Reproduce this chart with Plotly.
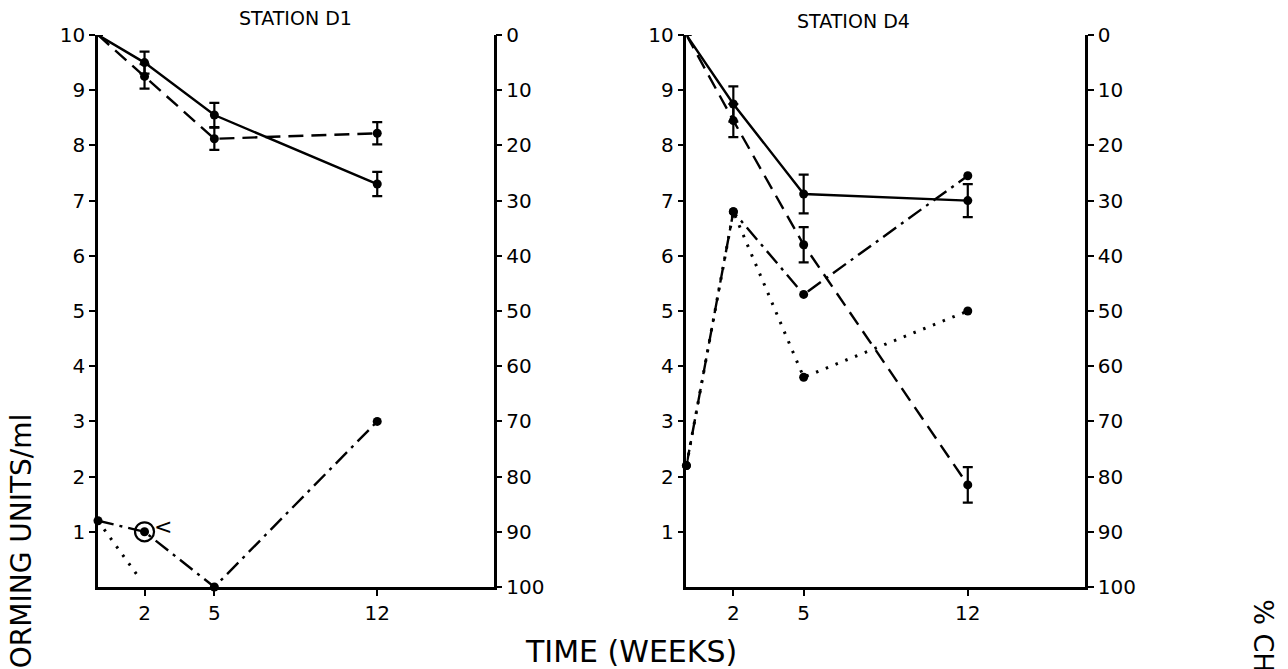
import plotly.graph_objects as go

# ---------------------------------------------------------
# data
# ---------------------------------------------------------
weeks = [0, 2, 5, 12]
week_ticks = [2, 5, 12]
log_ticks = [1, 2, 3, 4, 5, 6, 7, 8, 9, 10]
pct_ticks = [0, 10, 20, 30, 40, 50, 60, 70, 80, 90, 100]

# Station D1
d1_solid = [10, 9.5, 8.55, 7.3]
d1_solid_err = [0, 0.2, 0.22, 0.22]
d1_dash = [10, 9.25, 8.12, 8.22]
d1_dash_err = [0, 0.22, 0.2, 0.2]
d1_dashdot = [1.2, 1.0, 0, 3.0]
d1_dot_weeks = [0, 1.8]
d1_dot = [1.2, 0.15]
d1_circled_week = [2]
d1_circled = [1.0]

# Station D4
d4_solid = [10, 8.75, 7.12, 7.0]
d4_solid_err = [0, 0.32, 0.35, 0.3]
d4_dash = [10, 8.45, 6.2, 1.85]
d4_dash_err = [0, 0.3, 0.32, 0.32]
d4_dashdot = [2.2, 6.8, 5.3, 7.45]
d4_dot = [2.2, 6.8, 3.8, 5.0]

FONT = "DejaVu Sans"
LW = 2.4
DASH = "15px,8px"
DASHDOT = "16px,6px,3px,6px"
DOT = "2.5px,8px"
no_first = [0, 9, 9, 9]


def err(a):
    return dict(type="data", array=a, color="black", thickness=2.2, width=5)


def dots(size):
    return dict(size=size, color="black", opacity=1, line=dict(width=0))


fig = go.Figure()

# ---------------------------------------------------------
# Station D1 (x / y)
# ---------------------------------------------------------
fig.add_trace(go.Scatter(x=weeks, y=d1_solid, xaxis="x", yaxis="y", mode="lines+markers",
                         line=dict(color="black", width=LW), marker=dots(no_first),
                         error_y=err(d1_solid_err), cliponaxis=False))
fig.add_trace(go.Scatter(x=weeks, y=d1_dash, xaxis="x", yaxis="y", mode="lines+markers",
                         line=dict(color="black", width=LW, dash=DASH), marker=dots(no_first),
                         error_y=err(d1_dash_err), cliponaxis=False))
fig.add_trace(go.Scatter(x=weeks, y=d1_dashdot, xaxis="x", yaxis="y", mode="lines+markers",
                         line=dict(color="black", width=LW, dash=DASHDOT), marker=dots(9),
                         cliponaxis=False))
fig.add_trace(go.Scatter(x=d1_dot_weeks, y=d1_dot, xaxis="x", yaxis="y", mode="lines",
                         line=dict(color="black", width=LW + 0.6, dash=DOT), cliponaxis=False))
fig.add_trace(go.Scatter(x=d1_circled_week, y=d1_circled, xaxis="x", yaxis="y", mode="markers",
                         marker=dict(symbol="circle-open", size=19, color="black", line=dict(width=2.2)),
                         cliponaxis=False))

# ---------------------------------------------------------
# Station D4 (x2 / y3)
# ---------------------------------------------------------
fig.add_trace(go.Scatter(x=weeks, y=d4_solid, xaxis="x2", yaxis="y3", mode="lines+markers",
                         line=dict(color="black", width=LW), marker=dots(no_first),
                         error_y=err(d4_solid_err), cliponaxis=False))
fig.add_trace(go.Scatter(x=weeks, y=d4_dash, xaxis="x2", yaxis="y3", mode="lines+markers",
                         line=dict(color="black", width=LW, dash=DASH), marker=dots(no_first),
                         error_y=err(d4_dash_err), cliponaxis=False))
fig.add_trace(go.Scatter(x=weeks, y=d4_dashdot, xaxis="x2", yaxis="y3", mode="lines+markers",
                         line=dict(color="black", width=LW, dash=DASHDOT), marker=dots(9),
                         cliponaxis=False))
fig.add_trace(go.Scatter(x=weeks, y=d4_dot, xaxis="x2", yaxis="y3", mode="lines+markers",
                         line=dict(color="black", width=LW + 0.6, dash=DOT), marker=dots(9),
                         cliponaxis=False))

# empty traces so the % change axes get drawn
fig.add_trace(go.Scatter(x=[None], y=[None], xaxis="x", yaxis="y2", mode="markers", hoverinfo="skip"))
fig.add_trace(go.Scatter(x=[None], y=[None], xaxis="x2", yaxis="y4", mode="markers", hoverinfo="skip"))

# ---------------------------------------------------------
# axes
# ---------------------------------------------------------
ax_common = dict(showline=True, linecolor="black", linewidth=2.5, showgrid=False, zeroline=False,
                 ticks="outside", ticklen=6, tickwidth=2, tickcolor="black",
                 tickfont=dict(family=FONT, size=20, color="black"))
xax = dict(ax_common, range=[0, 17], tickvals=week_ticks)
yax = dict(ax_common, range=[0, 10], tickvals=log_ticks, domain=[0, 1])
pax = dict(ax_common, range=[100, 0], tickvals=pct_ticks, side="right")

fig.update_layout(
    width=1288, height=669,
    margin=dict(l=90, r=211, t=27, b=90, autoexpand=False),
    paper_bgcolor="white", plot_bgcolor="white",
    showlegend=False,
    xaxis=dict(xax, domain=[0, 0.4008], anchor="y"),
    yaxis=dict(yax, anchor="x"),
    yaxis2=dict(pax, overlaying="y", anchor="x"),
    xaxis2=dict(xax, domain=[0.5962, 1], anchor="y3"),
    yaxis3=dict(yax, anchor="x2"),
    yaxis4=dict(pax, overlaying="y3", anchor="x2"),
    annotations=[
        dict(text="STATION D1", x=0.2, y=1.03, xref="paper", yref="paper", showarrow=False,
             xanchor="center", yanchor="middle", font=dict(family=FONT, size=19, color="black")),
        dict(text="STATION D4", x=0.765, y=1.025, xref="paper", yref="paper", showarrow=False,
             xanchor="center", yanchor="middle", font=dict(family=FONT, size=19, color="black")),
        dict(text="TIME (WEEKS)", x=0.54, y=-0.117, xref="paper", yref="paper", showarrow=False,
             xanchor="center", yanchor="middle", font=dict(family=FONT, size=30, color="black")),
        dict(text="COLONY FORMING UNITS/ml", x=-0.078, y=0.318, xref="paper", yref="paper",
             xanchor="center", yanchor="top", textangle=-90, showarrow=False,
             font=dict(family=FONT, size=28, color="black")),
        dict(text="% CHANGE", x=1.18, y=-0.018, xref="paper", yref="paper",
             xanchor="center", yanchor="top", textangle=90, showarrow=False,
             font=dict(family=FONT, size=27, color="black")),
        dict(text="<", x=2.8, y=1.1, xref="x", yref="y", showarrow=False,
             font=dict(family=FONT, size=22, color="black")),
    ],
)

fig.write_html("out.html")
